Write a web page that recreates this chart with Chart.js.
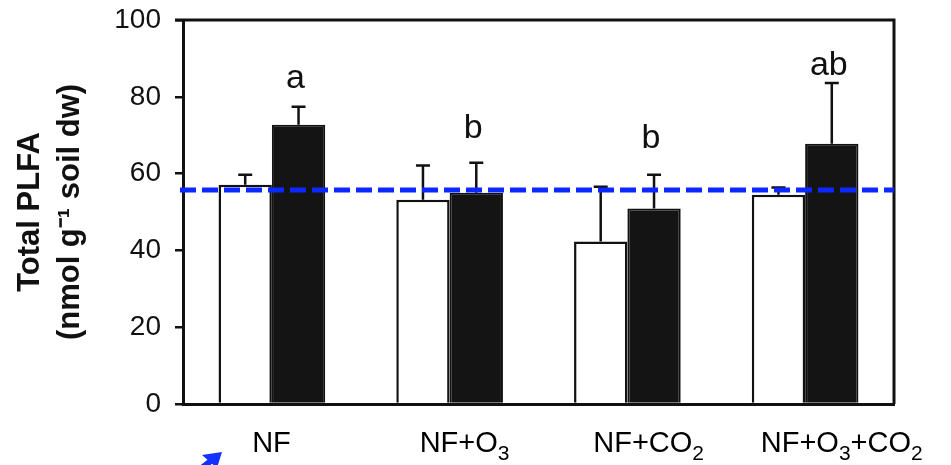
<!DOCTYPE html>
<html>
<head>
<meta charset="utf-8">
<script src="https://cdn.jsdelivr.net/npm/chart.js@4.4.1/dist/chart.umd.min.js"></script>
<style>
  body { margin: 0; background: #fff; }
  #wrap { width: 951px; height: 465px; }
</style>
</head>
<body>
<div id="wrap"><canvas id="plfa" width="951" height="465"></canvas></div>
<script>
// treatments (digits after a letter are drawn as subscripts)
const categories = ['NF', 'NF+O3', 'NF+CO2', 'NF+O3+CO2'];
const yTicks = [0, 20, 40, 60, 80, 100];

// open bars / filled bars, means and upper error (SE)
const openMeans = [57.1, 53.2, 42.3, 54.5];
const openErr = [2.6, 8.9, 14.3, 1.9];
const filledMeans = [72.7, 55.0, 50.9, 67.8];
const filledErr = [4.7, 7.8, 8.8, 15.8];

// significance letters over the filled bars, and where they sit (y value)
const sigLetters = ['a', 'b', 'b', 'ab'];
const sigLetterY = [82.3, 69.3, 66.7, 85.7];

// blue dashed reference level
const refLevel = 55.7;

const extras = {
  id: 'extras',
  afterDatasetsDraw(chart) {
    const ctx = chart.ctx;
    const y = chart.scales.y;
    const ca = chart.chartArea;
    const errs = [openErr, filledErr];
    const means = [openMeans, filledMeans];

    // error bars (upper only)
    ctx.save();
    ctx.strokeStyle = '#111';
    ctx.lineWidth = 2.5;
    [0, 1].forEach(d => {
      chart.getDatasetMeta(d).data.forEach((bar, i) => {
        const top = y.getPixelForValue(means[d][i] + errs[d][i]);
        const base = y.getPixelForValue(means[d][i]);
        ctx.beginPath();
        ctx.moveTo(bar.x, base);
        ctx.lineTo(bar.x, top);
        ctx.moveTo(bar.x - 7, top);
        ctx.lineTo(bar.x + 7, top);
        ctx.stroke();
      });
    });

    // frame top / right
    ctx.lineWidth = 3;
    ctx.beginPath();
    ctx.moveTo(ca.left - 8, ca.top);
    ctx.lineTo(ca.right, ca.top);
    ctx.lineTo(ca.right, ca.bottom);
    ctx.stroke();

    // letters
    ctx.fillStyle = '#111';
    ctx.font = '34px "Liberation Sans", Arial, sans-serif';
    ctx.textAlign = 'center';
    ctx.textBaseline = 'alphabetic';
    chart.getDatasetMeta(1).data.forEach((bar, i) => {
      ctx.fillText(sigLetters[i], bar.x - 3, y.getPixelForValue(sigLetterY[i]));
    });

    // reference line
    const ry = y.getPixelForValue(refLevel);
    ctx.strokeStyle = 'rgb(12, 40, 255)';
    ctx.lineWidth = 5;
    ctx.setLineDash([16, 6]);
    ctx.beginPath();
    ctx.moveTo(ca.left - 3, ry);
    ctx.lineTo(ca.right, ry);
    ctx.stroke();
    ctx.setLineDash([]);

    // category labels with subscripts
    const x = chart.scales.x;
    const big = '29px "Liberation Sans", Arial, sans-serif';
    const small = '21px "Liberation Sans", Arial, sans-serif';
    ctx.fillStyle = '#000';
    ctx.textAlign = 'left';
    categories.forEach((lab, i) => {
      const parts = [];
      for (const ch of lab) {
        const sub = /[0-9]/.test(ch);
        parts.push({ ch, sub });
      }
      let w = 0;
      parts.forEach(p => { ctx.font = p.sub ? small : big; w += ctx.measureText(p.ch).width; });
      let px = x.getPixelForValue(i) - w / 2 + (w - 40) * 0.3;
      const by = 452;
      parts.forEach(p => {
        ctx.font = p.sub ? small : big;
        ctx.fillText(p.ch, px, p.sub ? by + 8 : by);
        px += ctx.measureText(p.ch).width;
      });
    });

    // little blue arrow cut off at the bottom edge
    ctx.fillStyle = 'rgb(20, 50, 255)';
    ctx.strokeStyle = 'rgb(20, 50, 255)';
    ctx.lineWidth = 6;
    ctx.beginPath();
    ctx.moveTo(194, 474);
    ctx.lineTo(212, 460);
    ctx.stroke();
    ctx.beginPath();
    ctx.moveTo(222, 452);
    ctx.lineTo(202, 455);
    ctx.lineTo(217, 468);
    ctx.closePath();
    ctx.fill();
    ctx.restore();
  }
};

new Chart(document.getElementById('plfa'), {
  type: 'bar',
  data: {
    labels: categories,
    datasets: [
      {
        label: 'open',
        data: openMeans,
        backgroundColor: '#ffffff',
        borderColor: '#111',
        borderWidth: 2.5,
        borderSkipped: 'bottom'
      },
      {
        label: 'filled',
        data: filledMeans,
        backgroundColor: '#141414',
        borderColor: '#111',
        borderWidth: 2,
        borderSkipped: 'bottom'
      }
    ]
  },
  options: {
    responsive: false,
    animation: false,
    devicePixelRatio: 1,
    layout: { padding: { top: 20, right: 57, left: 0, bottom: 0 } },
    plugins: {
      legend: { display: false },
      tooltip: { enabled: false }
    },
    datasets: {
      bar: { barPercentage: 1.0, categoryPercentage: 0.6 }
    },
    scales: {
      x: {
        grid: { display: false },
        border: { display: true, color: '#111', width: 3 },
        ticks: { display: false },
        afterFit(scale) { scale.height = 61; }
      },
      y: {
        min: 0,
        max: 100,
        afterBuildTicks(scale) { scale.ticks = yTicks.map(v => ({ value: v })); },
        grid: { drawOnChartArea: false, color: '#111', lineWidth: 2.5, tickLength: 8 },
        border: { display: true, color: '#111', width: 3 },
        ticks: {
          color: '#111',
          padding: 14,
          font: { family: '"Liberation Sans", Arial, sans-serif', size: 28 }
        },
        title: {
          display: true,
          text: ['Total PLFA', '(nmol g\u207B\u00B9 soil dw)'],
          color: '#111',
          font: { family: '"Liberation Sans", Arial, sans-serif', size: 31, weight: 'bold', lineHeight: 1.3 },
          padding: { top: 10, bottom: 0 }
        },
        afterFit(scale) {
          scale.width = 183;
          scale.paddingTop = 0;
          scale.paddingBottom = 0;
        }
      }
    }
  },
  plugins: [extras]
});
</script>
</body>
</html>
